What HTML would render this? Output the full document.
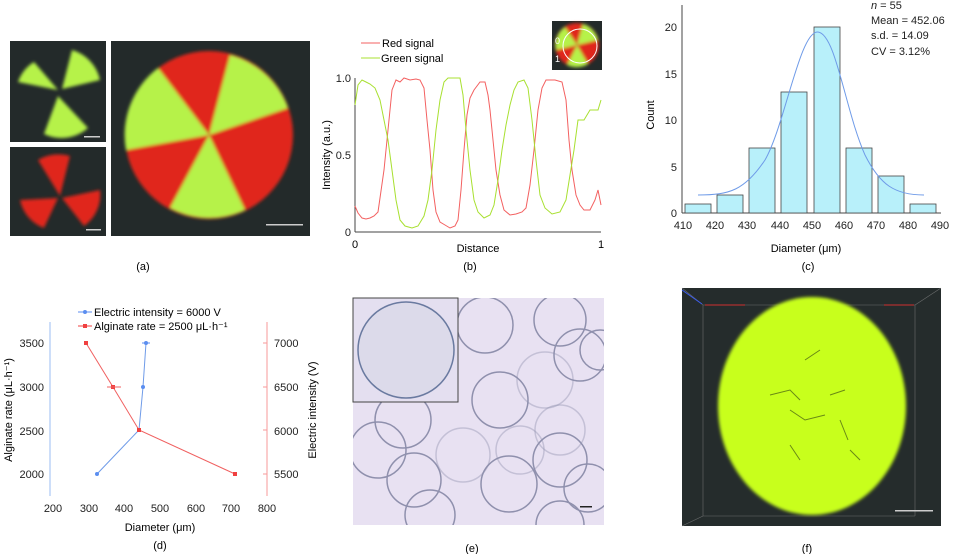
<!DOCTYPE html>
<html><head><meta charset="utf-8"><style>
html,body{margin:0;padding:0;background:#fff;}
svg{display:block;font-family:"Liberation Sans",sans-serif;}
</style></head><body>
<svg width="955" height="554" viewBox="0 0 955 554" xmlns="http://www.w3.org/2000/svg">
<defs>
<filter id="blur1"><feGaussianBlur stdDeviation="1.5"/></filter>
<clipPath id="ce"><rect x="353" y="298" width="251" height="227"/></clipPath>
</defs>
<!-- Panel a -->
<rect x="10" y="41" width="96" height="101" fill="#232a2a"/>
<g filter="url(#blur1)" fill="#b6f24a">
<path d="M58,90 L18,82 A38,38 0 0 1 34,62 Z"/>
<path d="M62,89 L72,50 A40,40 0 0 1 100,80 Z"/>
<path d="M58,96 L88,128 A40,40 0 0 1 44,134 Z"/>
</g>
<rect x="84" y="136" width="16" height="1.5" fill="#ccc"/>
<rect x="10" y="147" width="96" height="89" fill="#232a2a"/>
<g filter="url(#blur1)" fill="#e0281a">
<path d="M60,196 L38,160 A40,40 0 0 1 70,156 Z"/>
<path d="M58,198 L20,200 A38,38 0 0 0 44,228 Z"/>
<path d="M62,198 L100,190 A38,38 0 0 1 84,226 Z"/>
</g>
<rect x="86" y="229" width="15" height="1.5" fill="#ccc"/>
<rect x="111" y="41" width="199" height="195" fill="#232a2a"/>
<g filter="url(#blur1)">
<circle cx="209" cy="135" r="84" fill="#e0281a"/>
<path d="M209,135 L230,55 A84,84 0 0 1 288,108 Z" fill="#b6f24a"/>
<path d="M209,135 L158,68 A84,84 0 0 0 126,150 Z" fill="#b6f24a"/>
<path d="M209,135 L245,210 A84,84 0 0 1 170,208 Z" fill="#b6f24a"/>
</g>
<rect x="266" y="224" width="37" height="1.5" fill="#ccc"/>
<text x="143" y="270" font-size="11" text-anchor="middle">(a)</text>

<!-- Panel b -->
<line x1="355" y1="78" x2="355" y2="232" stroke="#444"/>
<line x1="355" y1="232" x2="601" y2="232" stroke="#444"/>
<g font-size="11" fill="#222" text-anchor="end">
<text x="351" y="82">1.0</text><text x="351" y="159">0.5</text><text x="351" y="236">0</text>
</g>
<text x="355" y="248" font-size="11" text-anchor="middle">0</text>
<text x="601" y="248" font-size="11" text-anchor="middle">1</text>
<text x="478" y="252" font-size="11" text-anchor="middle">Distance</text>
<text transform="translate(330,155) rotate(-90)" font-size="11" text-anchor="middle">Intensity (a.u.)</text>
<line x1="361" y1="43" x2="380" y2="43" stroke="#f36060"/>
<text x="382" y="47" font-size="11">Red signal</text>
<line x1="361" y1="58" x2="380" y2="58" stroke="#a8e030"/>
<text x="381" y="62" font-size="11">Green signal</text>
<polyline fill="none" stroke="#f36060" stroke-width="1" points="355,206 358,213 362,218 366,219 370,218 374,216 378,212 380,198 384,170 387,140 390,110 392,90 396,80 400,82 404,78 410,80 416,79 420,80 424,88 427,120 430,150 433,190 436,212 440,222 445,225 450,228 455,226 458,220 461,190 464,150 467,115 470,98 474,90 480,82 485,82 488,95 490,110 493,140 496,170 500,195 504,210 510,215 516,214 522,212 526,208 530,185 534,150 538,110 542,88 546,80 555,80 562,82 566,100 569,140 572,170 576,195 580,205 584,210 590,210 595,200 598,190 601,205"/>
<polyline fill="none" stroke="#a8e030" stroke-width="1" points="355,105 358,85 362,80 366,82 370,84 375,88 380,100 384,120 388,140 392,170 396,200 400,220 405,226 412,228 418,226 424,216 428,200 432,170 436,130 440,100 444,82 448,78 455,78 460,78 463,95 466,130 470,170 474,200 478,212 484,218 490,215 494,205 498,180 502,150 506,125 510,105 514,90 518,82 524,80 528,88 532,120 536,160 540,195 545,208 552,214 560,212 566,200 570,175 574,150 578,120 584,120 590,110 598,110 601,100"/>
<rect x="552" y="21" width="50" height="49" fill="#232a2a"/>
<g filter="url(#blur1)">
<circle cx="577" cy="45" r="22" fill="#e0281a"/>
<path d="M577,45 L583,24 A22,22 0 0 1 598,40 Z" fill="#b6f24a"/>
<path d="M577,45 L565,27 A22,22 0 0 0 556,50 Z" fill="#b6f24a"/>
<path d="M577,45 L588,64 A22,22 0 0 1 567,65 Z" fill="#b6f24a"/>
</g>
<circle cx="580" cy="46" r="17" fill="none" stroke="#fff" stroke-width="1"/>
<text x="555" y="44" font-size="9" fill="#fff">0</text>
<text x="555" y="62" font-size="9" fill="#fff">1</text>
<text x="470" y="270" font-size="11" text-anchor="middle">(b)</text>

<!-- Panel c -->
<line x1="682" y1="5" x2="682" y2="213" stroke="#444"/>
<line x1="682" y1="213" x2="941" y2="213" stroke="#444"/>
<g font-size="11" fill="#222" text-anchor="end">
<text x="677" y="217">0</text><text x="677" y="171">5</text><text x="677" y="124">10</text><text x="677" y="78">15</text><text x="677" y="31">20</text>
</g>
<g font-size="11" fill="#222" text-anchor="middle">
<text x="683" y="229">410</text><text x="715" y="229">420</text><text x="747" y="229">430</text><text x="780" y="229">440</text><text x="812" y="229">450</text><text x="844" y="229">460</text><text x="876" y="229">470</text><text x="908" y="229">480</text><text x="940" y="229">490</text>
</g>
<text x="806" y="252" font-size="11" text-anchor="middle">Diameter (μm)</text>
<text transform="translate(654,115) rotate(-90)" font-size="11" text-anchor="middle">Count</text>
<g fill="#b8f0fa" stroke="#444" stroke-width="0.8">
<rect x="685" y="204" width="26" height="9"/>
<rect x="717" y="195" width="26" height="18"/>
<rect x="749" y="148" width="26" height="65"/>
<rect x="781" y="92" width="26" height="121"/>
<rect x="814" y="27" width="26" height="186"/>
<rect x="846" y="148" width="26" height="65"/>
<rect x="878" y="176" width="26" height="37"/>
<rect x="910" y="204" width="26" height="9"/>
</g>
<path d="M698,195 C730,195 745,190 765,160 C785,125 800,30 818,32 C836,34 845,110 865,155 C880,185 895,195 924,195" fill="none" stroke="#6f9be8" stroke-width="1"/>
<g font-size="11" fill="#222">
<text x="871" y="9"><tspan font-style="italic">n</tspan> = 55</text>
<text x="871" y="24">Mean = 452.06</text>
<text x="871" y="39">s.d. = 14.09</text>
<text x="871" y="55">CV = 3.12%</text>
</g>
<text x="808" y="270" font-size="11" text-anchor="middle">(c)</text>

<!-- Panel d -->
<line x1="50" y1="322" x2="50" y2="496" stroke="#9bbcf3"/>
<line x1="267" y1="322" x2="267" y2="496" stroke="#f79a9a"/>
<g font-size="11" fill="#222" text-anchor="end">
<text x="44" y="347">3500</text><text x="44" y="391">3000</text><text x="44" y="435">2500</text><text x="44" y="478">2000</text>
</g>
<g font-size="11" fill="#222">
<text x="274" y="347">7000</text><text x="274" y="391">6500</text><text x="274" y="435">6000</text><text x="274" y="478">5500</text>
</g>
<g stroke="#f79a9a"><line x1="263" y1="343" x2="267" y2="343"/><line x1="263" y1="387" x2="267" y2="387"/><line x1="263" y1="430" x2="267" y2="430"/><line x1="263" y1="474" x2="267" y2="474"/></g>
<g font-size="11" fill="#222" text-anchor="middle">
<text x="53" y="512">200</text><text x="89" y="512">300</text><text x="124" y="512">400</text><text x="160" y="512">500</text><text x="196" y="512">600</text><text x="231" y="512">700</text><text x="267" y="512">800</text>
</g>
<text x="160" y="531" font-size="11" text-anchor="middle">Diameter (μm)</text>
<text transform="translate(12,410) rotate(-90)" font-size="11" text-anchor="middle">Alginate rate (μL·h⁻¹)</text>
<text transform="translate(316,410) rotate(-90)" font-size="11" text-anchor="middle">Electric intensity (V)</text>
<line x1="78" y1="312" x2="92" y2="312" stroke="#5b8ef0"/><circle cx="85" cy="312" r="2" fill="#5b8ef0"/>
<text x="94" y="316" font-size="11">Electric intensity = 6000 V</text>
<line x1="78" y1="326" x2="92" y2="326" stroke="#f04040"/><rect x="83" y="324" width="4" height="4" fill="#f04040"/>
<text x="94" y="330" font-size="11">Alginate rate = 2500 μL·h⁻¹</text>
<polyline points="97,474 139,430 143,387 146,343" fill="none" stroke="#6f9be8"/>
<g fill="#5b8ef0"><circle cx="97" cy="474" r="2"/><circle cx="139" cy="430" r="2"/><circle cx="143" cy="387" r="2"/><circle cx="146" cy="343" r="2"/></g>
<line x1="142" y1="343" x2="150" y2="343" stroke="#5b8ef0"/>
<polyline points="86,343 113,387 139,430 235,474" fill="none" stroke="#f06060"/>
<g fill="#f04040"><rect x="84" y="341" width="4" height="4"/><rect x="111" y="385" width="4" height="4"/><rect x="137" y="428" width="4" height="4"/><rect x="233" y="472" width="4" height="4"/></g>
<line x1="107" y1="387" x2="121" y2="387" stroke="#f06060"/>
<text x="160" y="549" font-size="11" text-anchor="middle">(d)</text>

<!-- Panel e -->
<rect x="353" y="298" width="251" height="227" fill="#e8e1f2"/>
<g fill="none" stroke="#6a6e90" stroke-width="1.5" opacity="0.7" clip-path="url(#ce)">
<circle cx="485" cy="325" r="28"/><circle cx="560" cy="320" r="26"/><circle cx="580" cy="355" r="26"/><circle cx="600" cy="350" r="20"/>
<circle cx="500" cy="400" r="28"/><circle cx="545" cy="380" r="28" stroke-opacity="0.4"/><circle cx="403" cy="420" r="28"/>
<circle cx="378" cy="450" r="28"/><circle cx="414" cy="480" r="27"/><circle cx="463" cy="455" r="27" stroke-opacity="0.4"/>
<circle cx="560" cy="430" r="25" stroke-opacity="0.4"/><circle cx="560" cy="460" r="27"/><circle cx="509" cy="484" r="28"/>
<circle cx="588" cy="488" r="24"/><circle cx="430" cy="515" r="25"/><circle cx="520" cy="450" r="24" stroke-opacity="0.4"/><circle cx="560" cy="525" r="24"/>
</g>
<rect x="353" y="298" width="105" height="104" fill="#e4dff0" stroke="#444" stroke-width="1"/>
<circle cx="406" cy="350" r="48" fill="#dcdaea" stroke="#6a7aa0" stroke-width="1.5"/>
<rect x="580" y="506" width="12" height="1.5" fill="#222"/>
<text x="472" y="552" font-size="11" text-anchor="middle">(e)</text>

<!-- Panel f -->
<rect x="682" y="288" width="259" height="238" fill="#252c2c"/>
<g stroke="#888" stroke-width="0.6" fill="none" opacity="0.7">
<line x1="703" y1="305" x2="703" y2="516"/><line x1="703" y1="305" x2="915" y2="305"/><line x1="915" y1="305" x2="915" y2="516"/><line x1="703" y1="516" x2="915" y2="516"/>
<line x1="682" y1="288" x2="703" y2="305"/><line x1="941" y1="288" x2="915" y2="305"/><line x1="682" y1="526" x2="703" y2="516"/>
</g>
<line x1="682" y1="290" x2="702" y2="304" stroke="#3a5cf0" stroke-width="1"/>
<line x1="705" y1="305" x2="745" y2="305" stroke="#d03030" stroke-width="1"/>
<line x1="884" y1="305" x2="914" y2="305" stroke="#d03030" stroke-width="1"/>
<ellipse cx="812" cy="406" rx="94" ry="109" fill="#c8ff1a" filter="url(#blur1)"/>
<g stroke="#2a3a10" stroke-width="1" fill="none" opacity="0.6">
<path d="M770,395 L790,390 L800,400 M790,410 L805,420 L825,415 M830,395 L845,390 M790,445 L800,460 M840,420 L848,440 M850,450 L860,460 M805,360 L820,350"/>
</g>
<rect x="895" y="510" width="38" height="1.5" fill="#ccc"/>
<text x="807" y="552" font-size="11" text-anchor="middle">(f)</text>
</svg>
</body></html>
